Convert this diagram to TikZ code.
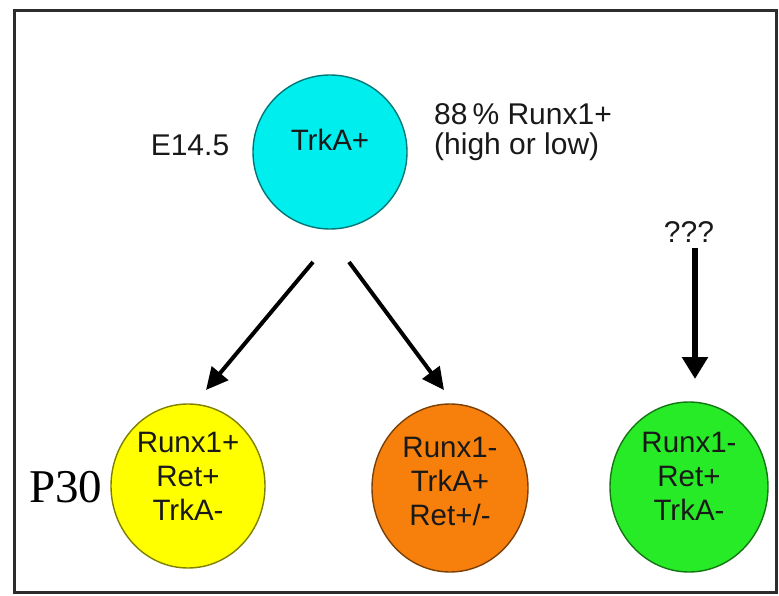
\documentclass[tikz,border=0pt]{standalone}
\usepackage{fontspec}
\setmainfont{Liberation Sans}
\newfontfamily\seriffont{Liberation Serif}
\usetikzlibrary{shapes.geometric,arrows.meta}
\definecolor{cyanf}{RGB}{0,238,238}
\definecolor{yellowf}{RGB}{255,255,0}
\definecolor{orangef}{RGB}{247,128,12}
\definecolor{greenf}{RGB}{40,235,40}
\definecolor{framec}{RGB}{45,45,45}
\newcommand\celltext[2]{\raisebox{#1}[\height][\depth]{\begin{tabular}{@{}c@{}}#2\end{tabular}}}
\begin{document}
\begin{tikzpicture}[x=1pt,y=-1pt,
  cell/.style={ellipse,draw=#1!50!black,line width=1.4pt,fill=#1,inner sep=0pt,
    font=\fontsize{29.5}{34}\selectfont,text=black!90},
  lbl/.style={font=\fontsize{30}{33}\selectfont,inner sep=0pt,text=black!90},
  arr/.style={line width=4pt,-{Triangle[length=22pt,width=21pt]}},
  varr/.style={line width=6.5pt,-{Triangle[length=22pt,width=25pt]}},
]
\useasboundingbox (0,0) rectangle (779,596);
\fill[white] (0,0) rectangle (779,596);
\draw[framec,line width=3pt] (14,11) rectangle (776,592);

% nodes
\node[cell=cyanf,minimum width=154pt,minimum height=154pt] (top) at (330,152) {\celltext{8pt}{TrkA+}};
\node[cell=yellowf,minimum width=154pt,minimum height=164pt] (yel) at (188,486) {\celltext{6pt}{Runx1+\\Ret+\\TrkA-}};
\node[cell=orangef,minimum width=156pt,minimum height=168pt] (ora) at (450,488) {\celltext{3pt}{Runx1-\\TrkA+\\Ret+/-}};
\node[cell=greenf,minimum width=158pt,minimum height=170pt] (gre) at (689,487) {\celltext{7pt}{Runx1-\\Ret+\\TrkA-}};

\node[lbl] (e145) at (190,145) {E14.5};
\node[lbl,anchor=base west] (pct) at (434,125) {88\,\% Runx1+};
\node[lbl,anchor=base west] (hl) at (434,155) {(high or low)};
\node[lbl] (q) at (689,232) {???};
\node[font=\seriffont\fontsize{47}{50}\selectfont,inner sep=0pt,anchor=base west] (p30) at (29,502) {P30};

% arrows
\coordinate (a1s) at (313,262);
\coordinate (a1e) at (206,390);
\coordinate (a2s) at (349,262);
\coordinate (a2e) at (444,390);
\coordinate (a3s) at (695,248);
\coordinate (a3e) at (695,379);
\draw[arr] (a1s) -- (a1e);
\draw[arr] (a2s) -- (a2e);
\draw[varr] (a3s) -- (a3e);
\end{tikzpicture}
\end{document}
